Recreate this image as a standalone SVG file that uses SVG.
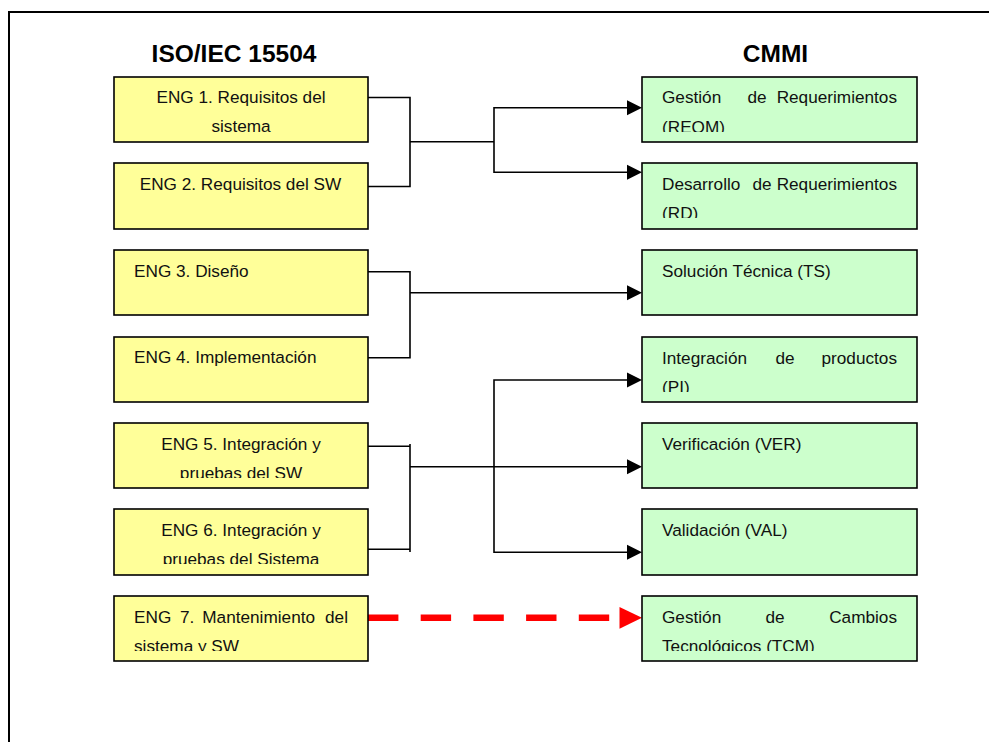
<svg xmlns="http://www.w3.org/2000/svg" width="989" height="742" viewBox="0 0 989 742">
<style>
.frame{fill:#fff;stroke:#000;stroke-width:2}
.title{font-family:"Liberation Sans",Arial,sans-serif;font-weight:bold;font-size:24.5px;fill:#000}
.iso{fill:#FFFF99;stroke:#000;stroke-width:1.6}
.cmmi{fill:#CCFFCC;stroke:#000;stroke-width:1.6}
.t{font-family:"Liberation Sans",Arial,sans-serif;font-size:17.2px;fill:#111}
.c{text-anchor:middle}
.e{text-anchor:end}
.ln{fill:none;stroke:#000;stroke-width:1.6}
.ah{fill:#000}
.red{fill:none;stroke:#FF0000;stroke-width:6.5;stroke-dasharray:30.4 22.3}
</style>
<defs>
<clipPath id="cl1" clipPathUnits="userSpaceOnUse"><rect x="114" y="77" width="254" height="55"/></clipPath>
<clipPath id="cl5" clipPathUnits="userSpaceOnUse"><rect x="114" y="423" width="254" height="55"/></clipPath>
<clipPath id="cl6" clipPathUnits="userSpaceOnUse"><rect x="114" y="509" width="254" height="55"/></clipPath>
<clipPath id="cl7" clipPathUnits="userSpaceOnUse"><rect x="114" y="596" width="254" height="55"/></clipPath>
<clipPath id="cr1" clipPathUnits="userSpaceOnUse"><rect x="642" y="77" width="275" height="55"/></clipPath>
<clipPath id="cr2" clipPathUnits="userSpaceOnUse"><rect x="642" y="163" width="275" height="55"/></clipPath>
<clipPath id="cr4" clipPathUnits="userSpaceOnUse"><rect x="642" y="337" width="275" height="55"/></clipPath>
<clipPath id="cr7" clipPathUnits="userSpaceOnUse"><rect x="642" y="596" width="275" height="55"/></clipPath>
</defs>
<rect class="frame" x="9" y="12" width="1010" height="800"/>
<text class="title c" x="234" y="62">ISO/IEC 15504</text>
<text class="title c" x="775.5" y="62">CMMI</text>

<g id="connectors">
<polyline class="ln" points="368,97.5 410,97.5 410,186.5 368,186.5"/>
<polyline class="ln" points="410,141.7 494,141.7"/>
<polyline class="ln" points="628,107.7 494,107.7 494,172.3 628,172.3"/>
<polygon class="ah" points="627,100.2 642,107.7 627,115.2"/>
<polygon class="ah" points="627,164.8 642,172.3 627,179.8"/>
<polyline class="ln" points="368,271.7 410,271.7 410,357.7 368,357.7"/>
<polyline class="ln" points="410,292.7 628,292.7"/>
<polygon class="ah" points="627,285.2 642,292.7 627,300.2"/>
<polyline class="ln" points="368,446.3 410,446.3"/>
<polyline class="ln" points="368,549.3 410,549.3"/>
<line class="ln" x1="410" y1="444" x2="410" y2="552"/>
<polyline class="ln" points="410,466.7 628,466.7"/>
<polygon class="ah" points="627,459.2 642,466.7 627,474.2"/>
<polyline class="ln" points="628,380 494,380 494,552.3 628,552.3"/>
<polygon class="ah" points="627,372.5 642,380 627,387.5"/>
<polygon class="ah" points="627,544.8 642,552.3 627,559.8"/>
<line class="red" x1="368" y1="617.7" x2="610" y2="617.7"/>
<polygon fill="#FF0000" points="619.5,607 642,617.7 619.5,628.7"/>
</g>

<g id="eng1"><rect class="iso" x="114" y="77" width="254" height="65"/>
<text class="t c" clip-path="url(#cl1)"><tspan x="241" y="103.3">ENG 1. Requisitos del</tspan><tspan x="241" y="132">sistema</tspan></text></g>
<g id="eng2"><rect class="iso" x="114" y="163" width="254" height="66"/>
<text class="t c" x="240.5" y="190">ENG 2. Requisitos del SW</text></g>
<g id="eng3"><rect class="iso" x="114" y="250" width="254" height="65"/>
<text class="t" x="134" y="276.7">ENG 3. Diseño</text></g>
<g id="eng4"><rect class="iso" x="114" y="337" width="254" height="65"/>
<text class="t" x="134" y="363">ENG 4. Implementación</text></g>
<g id="eng5"><rect class="iso" x="114" y="423" width="254" height="65"/>
<text class="t c" clip-path="url(#cl5)"><tspan x="241" y="450">ENG 5. Integración y</tspan><tspan x="241" y="479">pruebas del SW</tspan></text></g>
<g id="eng6"><rect class="iso" x="114" y="509" width="254" height="66"/>
<text class="t c" clip-path="url(#cl6)"><tspan x="241" y="536">ENG 6. Integración y</tspan><tspan x="241" y="565">pruebas del Sistema</tspan></text></g>
<g id="eng7"><rect class="iso" x="114" y="596" width="254" height="65"/>
<text class="t" clip-path="url(#cl7)"><tspan x="134" y="622.7">ENG</tspan><tspan x="180" y="622.7">7.</tspan><tspan x="202.3" y="622.7">Mantenimiento</tspan><tspan x="348" y="622.7" text-anchor="end">del</tspan><tspan x="134" y="652">sistema y SW</tspan></text></g>

<g id="reqm"><rect class="cmmi" x="642" y="77" width="275" height="65"/>
<text class="t" clip-path="url(#cr1)"><tspan x="662" y="103.3">Gestión</tspan><tspan x="747.5" y="103.3">de</tspan><tspan x="897" y="103.3" text-anchor="end">Requerimientos</tspan><tspan x="662" y="132.5">(REQM)</tspan></text></g>
<g id="rd"><rect class="cmmi" x="642" y="163" width="275" height="66"/>
<text class="t" clip-path="url(#cr2)"><tspan x="662" y="190">Desarrollo</tspan><tspan x="752.5" y="190">de</tspan><tspan x="897" y="190" text-anchor="end">Requerimientos</tspan><tspan x="662" y="219">(RD)</tspan></text></g>
<g id="ts"><rect class="cmmi" x="642" y="250" width="275" height="65"/>
<text class="t" x="662" y="276.7">Solución Técnica (TS)</text></g>
<g id="pi"><rect class="cmmi" x="642" y="337" width="275" height="65"/>
<text class="t" clip-path="url(#cr4)"><tspan x="662" y="363.5">Integración</tspan><tspan x="775.5" y="363.5">de</tspan><tspan x="897" y="363.5" text-anchor="end">productos</tspan><tspan x="662" y="392.5">(PI)</tspan></text></g>
<g id="ver"><rect class="cmmi" x="642" y="423" width="275" height="65"/>
<text class="t" x="662" y="450">Verificación (VER)</text></g>
<g id="val"><rect class="cmmi" x="642" y="509" width="275" height="66"/>
<text class="t" x="662" y="536">Validación (VAL)</text></g>
<g id="tcm"><rect class="cmmi" x="642" y="596" width="275" height="65"/>
<text class="t" clip-path="url(#cr7)"><tspan x="662" y="622.7">Gestión</tspan><tspan x="765.5" y="622.7">de</tspan><tspan x="897" y="622.7" text-anchor="end">Cambios</tspan><tspan x="662" y="652">Tecnológicos (TCM)</tspan></text></g>
</svg>
